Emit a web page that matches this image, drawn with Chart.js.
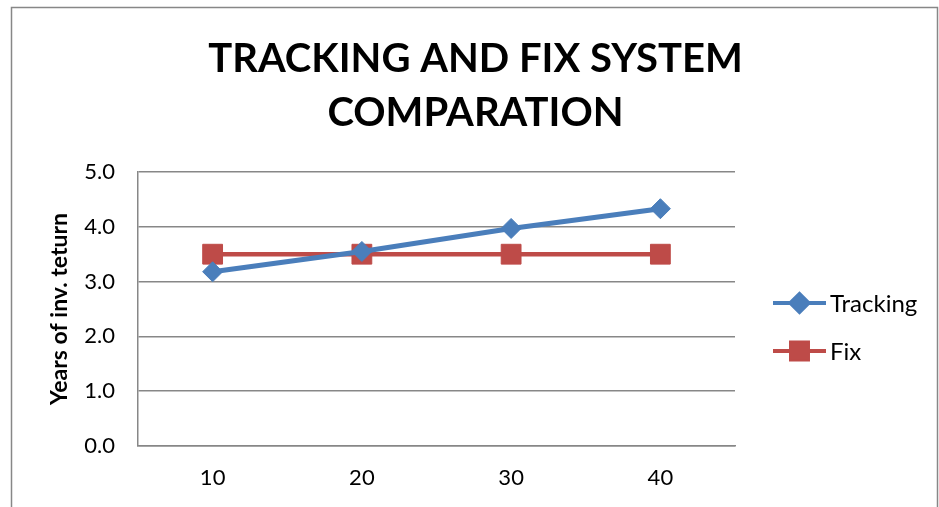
<!DOCTYPE html>
<html>
<head>
<meta charset="utf-8">
<script src="https://cdn.jsdelivr.net/npm/chart.js@4.4.0/dist/chart.umd.min.js"></script>
<style>
  html, body { margin: 0; padding: 0; background: #ffffff; }
  #wrap { width: 939px; height: 507px; }
</style>
</head>
<body>
<div id="wrap"><canvas id="myChart" width="939" height="507"></canvas></div>
<script>
// chart values
var years = ["10", "20", "30", "40"];
var tracking = [3.18, 3.55, 3.97, 4.33];
var fix = [3.5, 3.5, 3.5, 3.5];
var yTicks = [0, 1, 2, 3, 4, 5];

var blue = "#4a7ebb";
var red = "#be4b48";
var gridGray = "#878787";
var font = "Lato, 'Open Sans', sans-serif";

// outer frame + legend with line and marker like Excel
var framePlugin = {
    id: "frame",
    beforeDraw: function(chart) {
        let ctx = chart.ctx;
        ctx.save();
        ctx.fillStyle = "#ffffff";
        ctx.fillRect(0, 0, chart.width, chart.height);
        ctx.strokeStyle = gridGray;
        ctx.lineWidth = 1.5;
        ctx.strokeRect(11.5, 7.5, 926, 520);
        ctx.restore();
    },
    afterDraw: function(chart) {
        let ctx = chart.ctx;
        let items = [
            { text: "Tracking", color: blue, style: "rectRot", radius: 9, y: 303 },
            { text: "Fix", color: red, style: "rect", radius: 12, y: 351 }
        ];
        ctx.save();
        items.forEach(function(item) {
            ctx.strokeStyle = item.color;
            ctx.lineWidth = 4;
            ctx.beginPath();
            ctx.moveTo(773, item.y);
            ctx.lineTo(826, item.y);
            ctx.stroke();
            ctx.fillStyle = item.color;
            Chart.helpers.drawPoint(ctx, { pointStyle: item.style, radius: item.radius, borderWidth: 1 }, 799.5, item.y);
            ctx.fill();
            ctx.fillStyle = "#000000";
            ctx.font = "24px " + font;
            ctx.textBaseline = "middle";
            ctx.fillText(item.text, 830, item.y + 1);
        });
        ctx.restore();
    }
};

var config = {
    type: "line",
    data: {
        labels: years,
        datasets: [{
            label: "Tracking",
            data: tracking,
            borderColor: blue,
            backgroundColor: blue,
            borderWidth: 5,
            pointStyle: "rectRot",
            pointRadius: 10,
            pointBorderWidth: 1,
            tension: 0
        }, {
            label: "Fix",
            data: fix,
            borderColor: red,
            backgroundColor: red,
            borderWidth: 4.5,
            pointStyle: "rect",
            pointRadius: 14,
            pointBorderWidth: 1,
            tension: 0
        }]
    },
    options: {
        responsive: false,
        animation: false,
        layout: { padding: { left: 12, top: 8, right: 0, bottom: 0 } },
        plugins: {
            legend: { display: false },
            tooltip: { enabled: false },
            title: {
                display: true,
                text: ["TRACKING AND FIX SYSTEM", "COMPARATION"],
                color: "#000000",
                font: { family: font, size: 40, weight: "bold", lineHeight: 1.35 },
                padding: { top: 24, bottom: 32 }
            }
        },
        scales: {
            x: {
                offset: true,
                grid: { display: false, drawTicks: false },
                border: { display: true, color: gridGray, width: 1.5 },
                ticks: { color: "#000000", font: { family: font, size: 22 }, padding: 19 },
                afterFit: function(scale) { scale.height = 61; }
            },
            y: {
                min: 0,
                max: 5,
                afterBuildTicks: function(scale) {
                    scale.ticks = yTicks.map(function(v) { return { value: v }; });
                },
                grid: { color: gridGray, lineWidth: 1.5, drawTicks: false },
                border: { display: true, color: gridGray, width: 1.5 },
                ticks: {
                    color: "#000000",
                    font: { family: font, size: 22 },
                    padding: 23,
                    callback: function(v) { return v.toFixed(1); }
                },
                title: {
                    display: true,
                    text: "Years of inv. teturn",
                    color: "#000000",
                    font: { family: font, size: 23, weight: "bold" },
                    padding: { top: 34, bottom: 0 }
                },
                afterFit: function(scale) { scale.width = 126; }
            },
            spacer: {
                type: "linear",
                position: "right",
                display: true,
                grid: { display: false, drawTicks: false },
                border: { display: false },
                ticks: { display: false },
                afterFit: function(scale) { scale.width = 204; }
            }
        }
    },
    plugins: [framePlugin]
};

var myChart = new Chart(document.getElementById("myChart"), config);
</script>
</body>
</html>
